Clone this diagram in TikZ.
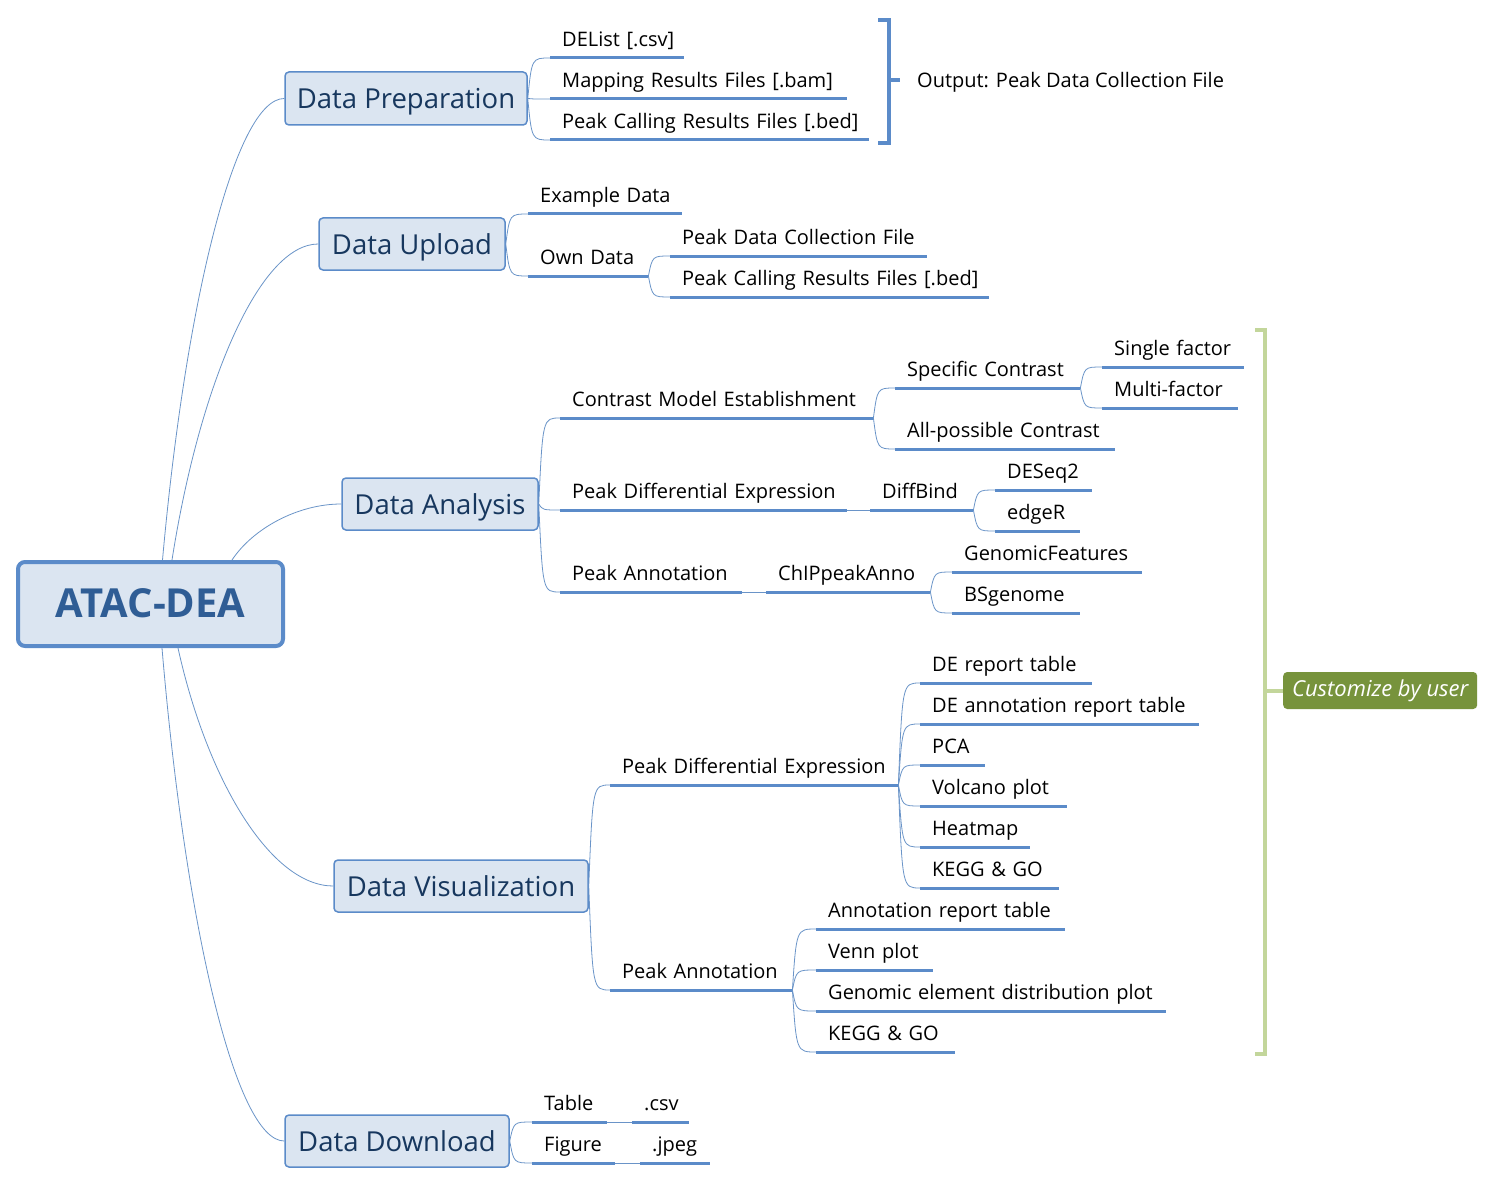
\documentclass[tikz,border=0pt]{standalone}
\usepackage{fontspec}
\setmainfont{Open Sans}
\usetikzlibrary{calc}
\definecolor{boxfill}{HTML}{DBE5F1}
\definecolor{boxline}{HTML}{5B8BC9}
\definecolor{boxtext}{HTML}{17375E}
\definecolor{roottext}{HTML}{2F5D95}
\definecolor{uline}{HTML}{5B8BC9}
\definecolor{conn}{HTML}{6A94C8}
\definecolor{gbracket}{HTML}{C3D69B}
\definecolor{gfill}{HTML}{77933C}
\tikzset{
  topbox/.style={draw=boxline, line width=1.5pt, fill=boxfill, rounded corners=4pt,
    text=boxtext, font=\fontsize{27.5}{32}\selectfont, inner sep=0pt,
    text height=27pt, text depth=6pt},
  rootbox/.style={draw=boxline, line width=4pt, fill=boxfill, rounded corners=7pt,
    text=roottext, font=\fontsize{40}{46}\selectfont\bfseries, inner sep=0pt,
    text height=26pt, text depth=0pt},
  leaf/.style={inner xsep=0pt, inner ysep=0pt, align=left, text height=15pt, text depth=11pt,
    font=\fontsize{20}{24}\selectfont},
  ulinestyle/.style={draw=uline, line width=3pt},
  conn/.style={draw=conn, line width=0.8pt},
  bluebr/.style={draw=uline, line width=4pt},
  greenbr/.style={draw=gbracket, line width=4pt},
}
\newcommand{\leaf}[5]{%
  \pgfmathsetmacro{\lw}{#3-#2}%
  \node[leaf, text width=\lw pt, anchor=south west] (#1) at (#2,#4) {\hspace*{12pt}\mbox{#5}};
  \draw[ulinestyle] (#1.south west) -- (#1.south east);}
\newcommand{\conn}[2]{%
  \draw[conn] (#1) .. controls ([xshift=4pt]#1 |- #2) .. (#2);}
\newcommand{\rootconn}[2]{%
  \draw[conn] let \p1=(#1), \p2=(#2) in
    (#1) .. controls ({\x1+0.19*(\x2-\x1)},{\y1+0.56*(\y2-\y1)})
             and ({\x1+0.6*(\x2-\x1)},{\y2}) .. (#2);}
\begin{document}
\begin{tikzpicture}[x=1pt,y=-1pt]
\useasboundingbox (0,0) rectangle (1494,1185);
\fill[white] (0,0) rectangle (1494,1185);

% main boxes
\node[rootbox, minimum width=265pt, minimum height=84pt] (root) at (150.5,604) {ATAC-DEA};
\node[topbox, minimum width=242pt, minimum height=53pt] (DP) at (406,98.5) {Data Preparation};
\node[topbox, minimum width=186pt, minimum height=52pt] (DU) at (412,244) {Data Upload};
\node[topbox, minimum width=196pt, minimum height=52pt] (DA) at (440,504) {Data Analysis};
\node[topbox, minimum width=254pt, minimum height=52pt] (DV) at (461,886) {Data Visualization};
\node[topbox, minimum width=224pt, minimum height=52pt] (DD) at (397,1141) {Data Download};

% root connectors
\coordinate (r1) at ([xshift=12pt]root.north);
\coordinate (r2) at ([xshift=21.5pt]root.north);
\coordinate (r3) at ([xshift=81.5pt]root.north);
\coordinate (r4) at ([xshift=27.5pt]root.south);
\coordinate (r5) at ([xshift=11.5pt]root.south);
\rootconn{r1}{DP.west}
\rootconn{r2}{DU.west}
\rootconn{r3}{DA.west}
\rootconn{r4}{DV.west}
\rootconn{r5}{DD.west}

% Data Preparation
\leaf{dp1}{550}{684}{58}{DEList [.csv]}
\leaf{dp2}{550}{847}{99}{Mapping Results Files [.bam]}
\leaf{dp3}{550}{869}{140}{Peak Calling Results Files [.bed]}
\conn{DP.east}{dp1.south west}
\conn{DP.east}{dp2.south west}
\conn{DP.east}{dp3.south west}
\draw[bluebr] (878,20) -- (889,20) -- (889,143) -- (878,143);
\node[leaf, anchor=base west, text depth=4pt] (out) at (917,88) {Output: Peak Data Collection File};
\draw[bluebr] (889,80) -- (900,80);

% Data Upload
\leaf{du1}{528}{682}{214}{Example Data}
\leaf{du2}{528}{648}{276}{Own Data}
\leaf{du21}{670}{927}{256}{Peak Data Collection File}
\leaf{du22}{670}{989}{297}{Peak Calling Results Files [.bed]}
\conn{DU.east}{du1.south west}
\conn{DU.east}{du2.south west}
\conn{du2.south east}{du21.south west}
\conn{du2.south east}{du22.south west}

% Data Analysis
\leaf{da1}{560}{873}{418}{Contrast Model Establishment}
\leaf{da11}{895}{1080}{388}{Specific Contrast}
\leaf{da111}{1102}{1244}{367}{Single factor}
\leaf{da112}{1102}{1238}{408}{Multi-factor}
\leaf{da12}{895}{1115}{449}{All-possible Contrast}
\leaf{da2}{560}{847}{510}{Peak Differential Expression}
\leaf{da21}{870}{973}{510}{DiffBind}
\leaf{da211}{995}{1092}{490}{DESeq2}
\leaf{da212}{995}{1080}{531}{edgeR}
\leaf{da3}{560}{742}{592}{Peak Annotation}
\leaf{da31}{766}{930}{592}{ChIPpeakAnno}
\leaf{da311}{952}{1142}{572}{GenomicFeatures}
\leaf{da312}{952}{1080}{613}{BSgenome}
\conn{DA.east}{da1.south west}
\conn{DA.east}{da2.south west}
\conn{DA.east}{da3.south west}
\conn{da1.south east}{da11.south west}
\conn{da1.south east}{da12.south west}
\conn{da11.south east}{da111.south west}
\conn{da11.south east}{da112.south west}
\draw[conn] (da2.south east) -- (da21.south west);
\conn{da21.south east}{da211.south west}
\conn{da21.south east}{da212.south west}
\draw[conn] (da3.south east) -- (da31.south west);
\conn{da31.south east}{da311.south west}
\conn{da31.south east}{da312.south west}

% Data Visualization
\leaf{dv1}{610}{898}{785}{Peak Differential Expression}
\leaf{dv11}{920}{1092}{683}{DE report table}
\leaf{dv12}{920}{1199}{724}{DE annotation report table}
\leaf{dv13}{920}{985}{765}{PCA}
\leaf{dv14}{920}{1067}{806}{Volcano plot}
\leaf{dv15}{920}{1030}{847}{Heatmap}
\leaf{dv16}{920}{1059}{888}{KEGG \& GO}
\leaf{dv2}{610}{792}{990}{Peak Annotation}
\leaf{dv21}{816}{1065}{929}{Annotation report table}
\leaf{dv22}{816}{933}{970}{Venn plot}
\leaf{dv23}{816}{1166}{1011}{Genomic element distribution plot}
\leaf{dv24}{816}{955}{1052}{KEGG \& GO}
\conn{DV.east}{dv1.south west}
\conn{DV.east}{dv2.south west}
\foreach \i in {1,...,6} {\conn{dv1.south east}{dv1\i.south west}}
\foreach \i in {1,...,4} {\conn{dv2.south east}{dv2\i.south west}}

% Data Download
\leaf{dd1}{532}{607}{1122}{Table}
\leaf{dd11}{632}{689}{1122}{.csv}
\leaf{dd2}{532}{615}{1163}{Figure}
\leaf{dd21}{640}{710}{1163}{.jpeg}
\conn{DD.east}{dd1.south west}
\conn{DD.east}{dd2.south west}
\draw[conn] (dd1.south east) -- (dd11.south west);
\draw[conn] (dd2.south east) -- (dd21.south west);

% green bracket
\draw[greenbr] (1255,330) -- (1265,330) -- (1265,1054) -- (1255,1054);
\node[fill=gfill, rounded corners=4pt, minimum width=194pt, minimum height=37pt, inner sep=0pt,
  text=white, font=\fontsize{22}{26}\selectfont\itshape, anchor=west] (cust) at (1283,690.5) {Customize by user};
\draw[greenbr] (1265,690.5) -- (cust.west);
\end{tikzpicture}
\end{document}
